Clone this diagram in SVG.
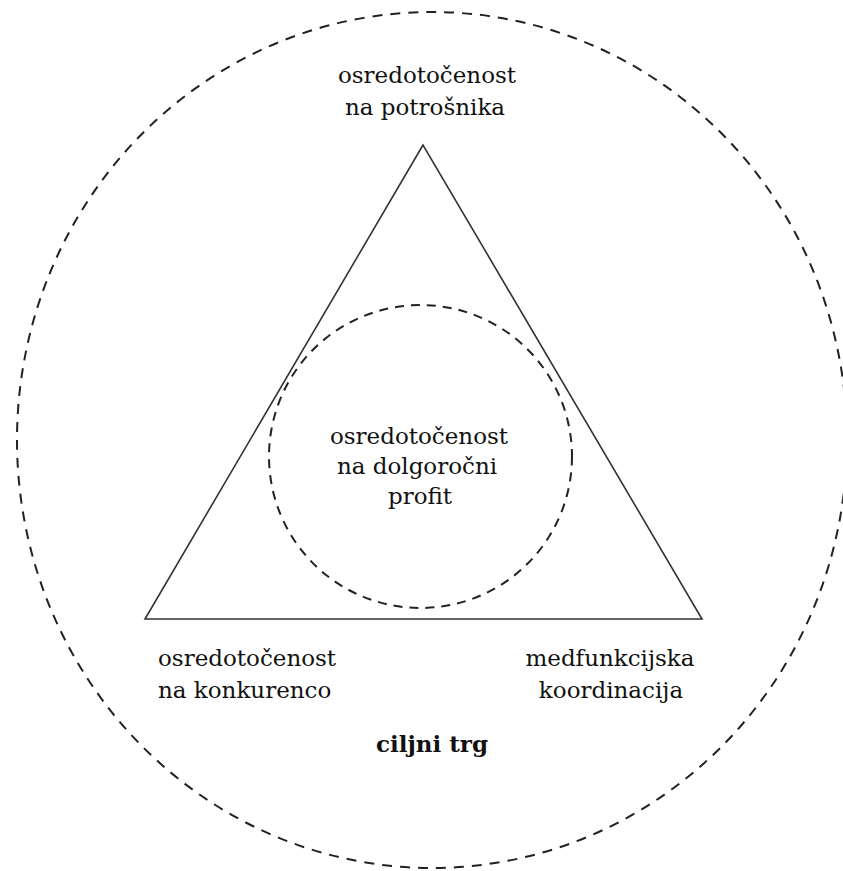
<svg xmlns="http://www.w3.org/2000/svg" width="843" height="871" viewBox="0 0 843 871">
<style>
.lbl{font-family:"DejaVu Serif","Liberation Serif",serif;font-size:23px;fill:#111;}
.c{text-anchor:middle;}
.b{font-weight:bold;}
.dash{fill:none;stroke:#222;stroke-width:2;}
</style>
<rect width="843" height="871" fill="#fff"/>
<g id="outer-market">
<ellipse class="dash" cx="432" cy="440" rx="415" ry="428" stroke-dasharray="10 8"/>
<text class="lbl c b" x="432" y="752">ciljni trg</text>
</g>
<g id="triangle">
<polygon points="423,145 145,619 702,619" fill="none" stroke="#333" stroke-width="1.6"/>
</g>
<g id="inner-profit">
<circle class="dash" cx="420.5" cy="456.5" r="151.5" stroke-dasharray="9 7"/>
<text class="lbl c" x="419" y="444">osredotočenost</text>
<text class="lbl c" x="417" y="474">na dolgoročni</text>
<text class="lbl c" x="420" y="504">profit</text>
</g>
<g id="node-potrosnik">
<text class="lbl c" x="427" y="83">osredotočenost</text>
<text class="lbl c" x="425" y="115">na potrošnika</text>
</g>
<g id="node-konkurenca">
<text class="lbl" x="158" y="666">osredotočenost</text>
<text class="lbl" x="158" y="698">na konkurenco</text>
</g>
<g id="node-koordinacija">
<text class="lbl c" x="610" y="666">medfunkcijska</text>
<text class="lbl c" x="611" y="698">koordinacija</text>
</g>
<g id="connectors"></g>
</svg>
